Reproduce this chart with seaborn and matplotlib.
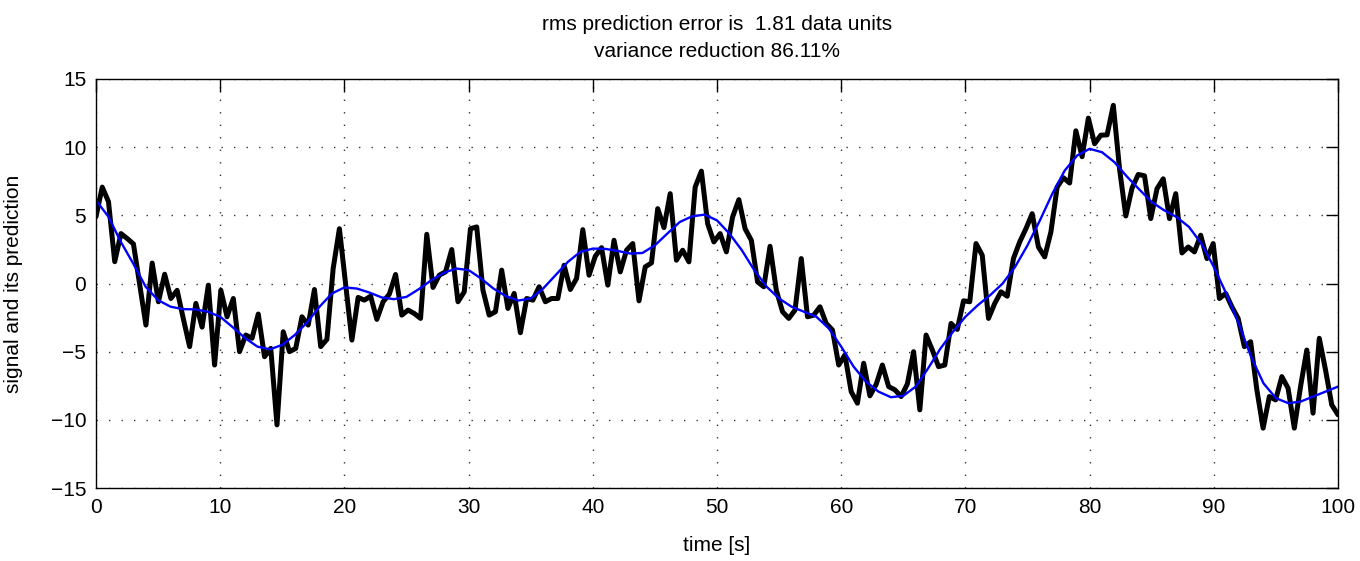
import numpy as np
import pandas as pd
import seaborn as sns
import matplotlib.pyplot as plt

# =========================
# Data
# =========================
# signal: 200 samples evenly spread over 0..100 s
signal = [
    4.9, 7.07, 6.0, 1.6, 3.66, 3.3, 2.9, -0.07, -3.05, 1.5,
    -1.34, 0.68, -1.1, -0.5, -2.6, -4.63, -1.46, -3.2, -0.12, -5.98,
    -0.49, -2.44, -1.1, -5.0, -3.78, -4.02, -2.24, -5.37, -4.76, -10.37,
    -3.54, -5.0, -4.76, -2.44, -3.05, -0.44, -4.63, -4.1, 1.1, 4.02,
    -0.07, -4.15, -1.02, -1.22, -0.93, -2.63, -1.34, -0.78, 0.66, -2.32,
    -1.95, -2.2, -2.56, 3.61, -0.29, 0.61, 0.85, 2.49, -1.34, -0.61,
    4.02, 4.15, -0.49, -2.32, -2.07, 0.98, -1.83, -0.73, -3.61, -1.1,
    -1.22, -0.24, -1.34, -1.1, -1.1, 1.34, -0.44, 0.37, 3.95, 0.61,
    2.0, 2.63, -0.12, 3.17, 0.85, 2.44, 2.93, -1.27, 1.22, 1.51,
    5.49, 4.1, 6.59, 1.71, 2.44, 1.59, 7.07, 8.24, 4.39, 3.05,
    3.66, 2.32, 4.88, 6.15, 4.02, 3.17, 0.12, -0.24, 2.73, -0.49,
    -2.07, -2.56, -1.95, 1.83, -2.44, -2.32, -1.71, -2.93, -3.41, -5.98,
    -5.24, -7.93, -8.78, -5.85, -8.24, -7.4, -5.98, -7.56, -7.8, -8.29,
    -7.37, -5.0, -9.27, -3.78, -4.88, -6.1, -5.98, -2.93, -3.37, -1.27,
    -1.34, 2.93, 2.07, -2.56, -1.46, -0.61, -0.93, 1.83, 3.05, 4.02,
    5.12, 2.68, 1.95, 3.78, 7.07, 7.76, 7.37, 11.2, 9.3, 12.13,
    10.25, 10.88, 10.9, 13.07, 8.4, 4.95, 7.0, 8.0, 7.9, 4.76,
    6.95, 7.68, 4.76, 6.59, 2.24, 2.68, 2.32, 3.54, 1.83, 2.93,
    -1.1, -0.73, -1.71, -2.56, -4.63, -4.27, -7.8, -10.61, -8.29, -8.54,
    -6.83, -7.68, -10.61, -7.56, -4.88, -9.51, -4.02, -6.34, -8.9, -9.63,
]
t_signal = np.linspace(0, 100, len(signal))

# prediction, read every 1 s
prediction = [
    6.1, 4.9, 3.05, 1.46, -0.24, -1.22, -1.7, -1.88, -1.9, -2.07,
    -2.44, -3.2, -4.0, -4.63, -4.83, -4.5, -3.78, -2.85, -1.7, -0.73,
    -0.29, -0.37, -0.66, -1.02, -1.15, -0.98, -0.41, 0.24, 0.78, 1.1,
    0.98, 0.37, -0.37, -0.93, -1.25, -1.1, -0.37, 0.61, 1.59, 2.32,
    2.56, 2.54, 2.39, 2.2, 2.24, 2.8, 3.66, 4.51, 4.93, 5.05,
    4.63, 3.66, 2.44, 0.98, -0.24, -1.1, -1.7, -2.07, -2.44, -3.29,
    -4.63, -6.1, -7.2, -7.93, -8.34, -8.24, -7.56, -6.22, -4.76, -3.54,
    -2.44, -1.59, -0.85, 0.0, 1.22, 2.8, 4.63, 6.59, 8.29, 9.39,
    9.88, 9.63, 8.9, 7.85, 6.9, 5.98, 5.37, 4.88, 4.15, 2.93,
    1.22, -0.73, -2.93, -5.37, -7.32, -8.41, -8.78, -8.66, -8.29, -7.93,
    -7.56,
]
t_pred = np.arange(0, 101, 1)

title_lines = ["rms prediction error is  1.81 data units",
               "variance reduction 86.11%"]

df_sig = pd.DataFrame({"time": t_signal, "value": signal})
df_pred = pd.DataFrame({"time": t_pred, "value": prediction})

# =========================
# Plot
# =========================
sns.set_style("white")
plt.rcParams["font.family"] = ["Liberation Sans", "DejaVu Sans"]
plt.rcParams["text.color"] = "black"
plt.rcParams["axes.labelcolor"] = "black"
plt.rcParams["xtick.color"] = "black"
plt.rcParams["ytick.color"] = "black"

fig = plt.figure(figsize=(13.6, 5.61), dpi=100)
ax = fig.add_axes([96 / 1360, 1 - 488 / 561, (1338 - 96) / 1360, (488 - 79) / 561])

sns.lineplot(data=df_sig, x="time", y="value", color="black", linewidth=3.6,
             estimator=None, sort=False, ax=ax)
sns.lineplot(data=df_pred, x="time", y="value", color="#0000ff", linewidth=1.7,
             estimator=None, sort=False, ax=ax)

ax.set_xlim(0, 100)
ax.set_ylim(-15, 15)
ax.set_xticks(np.arange(0, 101, 10))
ax.set_yticks(np.arange(-15, 16, 5))

ax.grid(True, color="0.2", linestyle=(0, (1, 8)), linewidth=1.0)
for s in ax.spines.values():
    s.set_color("black")
    s.set_linewidth(1.0)

ax.tick_params(direction="in", length=9, width=1.0, top=True, right=True,
               labelsize=15, pad=7, color="black", labelcolor="black")

ax.set_xlabel("time [s]", fontsize=15, labelpad=14)
ax.set_ylabel("signal and its prediction", fontsize=15, labelpad=20)
ax.set_title("\n".join(title_lines), fontsize=15, pad=16, linespacing=1.5)

plt.savefig("out.png", dpi=100)
